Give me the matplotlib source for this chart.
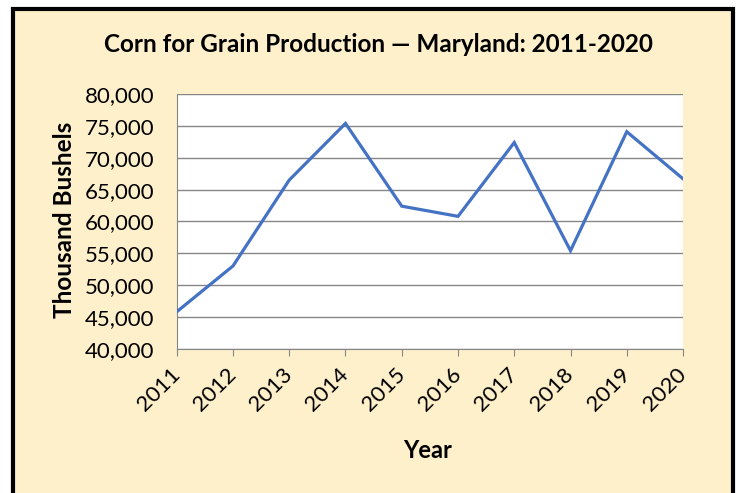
#!/usr/bin/env python3

import matplotlib.pyplot as plt
from matplotlib.patches import Rectangle

years = [2011, 2012, 2013, 2014, 2015, 2016, 2017, 2018, 2019, 2020]
production = [45800, 53000, 66500, 75400, 62400, 60800, 72400, 55400, 74100, 66700]
y_ticks = [40000, 45000, 50000, 55000, 60000, 65000, 70000, 75000, 80000]


def main():
    plt.rcParams['font.family'] = ['Lato', 'DejaVu Sans']
    fig = plt.figure(figsize=(7.4, 4.93), dpi=100)
    fig.patch.set_facecolor('white')

    # cream panel with black frame (bottom edge runs off the image)
    frame = Rectangle((13 / 740, -0.05), (733 - 13) / 740, 1.05 - 9 / 493,
                      transform=fig.transFigure, facecolor='#FFF0CC',
                      edgecolor='black', linewidth=3, zorder=0)
    fig.patches.append(frame)

    ax = fig.add_axes([0.2388, 0.2927, 0.923 - 0.2388, 0.809 - 0.2927])
    ax.set_zorder(2)
    ax.set_facecolor('white')
    ax.plot(years, production, color='#4472C4', linewidth=2.3,
            solid_joinstyle='miter', zorder=3)

    ax.set_xlim(years[0], years[-1])
    ax.set_ylim(40000, 80000)
    ax.set_yticks(y_ticks)
    ax.set_yticklabels(['{:,}'.format(v) for v in y_ticks], fontsize=16)
    ax.set_xticks(years)
    ax.set_xticklabels([str(y) for y in years], rotation=45, ha='right',
                       va='center', rotation_mode='anchor', fontsize=16)
    ax.grid(axis='y', color='#868686', linewidth=1)
    ax.set_axisbelow(True)
    ax.tick_params(axis='x', direction='out', length=5, color='#868686',
                   pad=11)
    ax.tick_params(axis='y', length=0, pad=16)
    for side in ['top', 'right']:
        ax.spines[side].set_visible(False)
    ax.spines['left'].set_color('#868686')
    ax.spines['bottom'].set_color('#868686')

    fig.text(65 / 740, 1 - 220 / 493, 'Thousand Bushels', rotation=90,
             ha='center', va='center', fontsize=17.5, fontweight='bold')
    fig.text(428 / 740, 1 - 450 / 493, 'Year',
             ha='center', va='center', fontsize=17, fontweight='bold')
    fig.text(378 / 740, 1 - 45 / 493,
             'Corn for Grain Production \u2014 Maryland: 2011-2020',
             ha='center', va='center', fontsize=17.5, fontweight='bold')

    fig.savefig('out.png', dpi=100, facecolor=fig.get_facecolor())


if __name__ == "__main__":
    main()
